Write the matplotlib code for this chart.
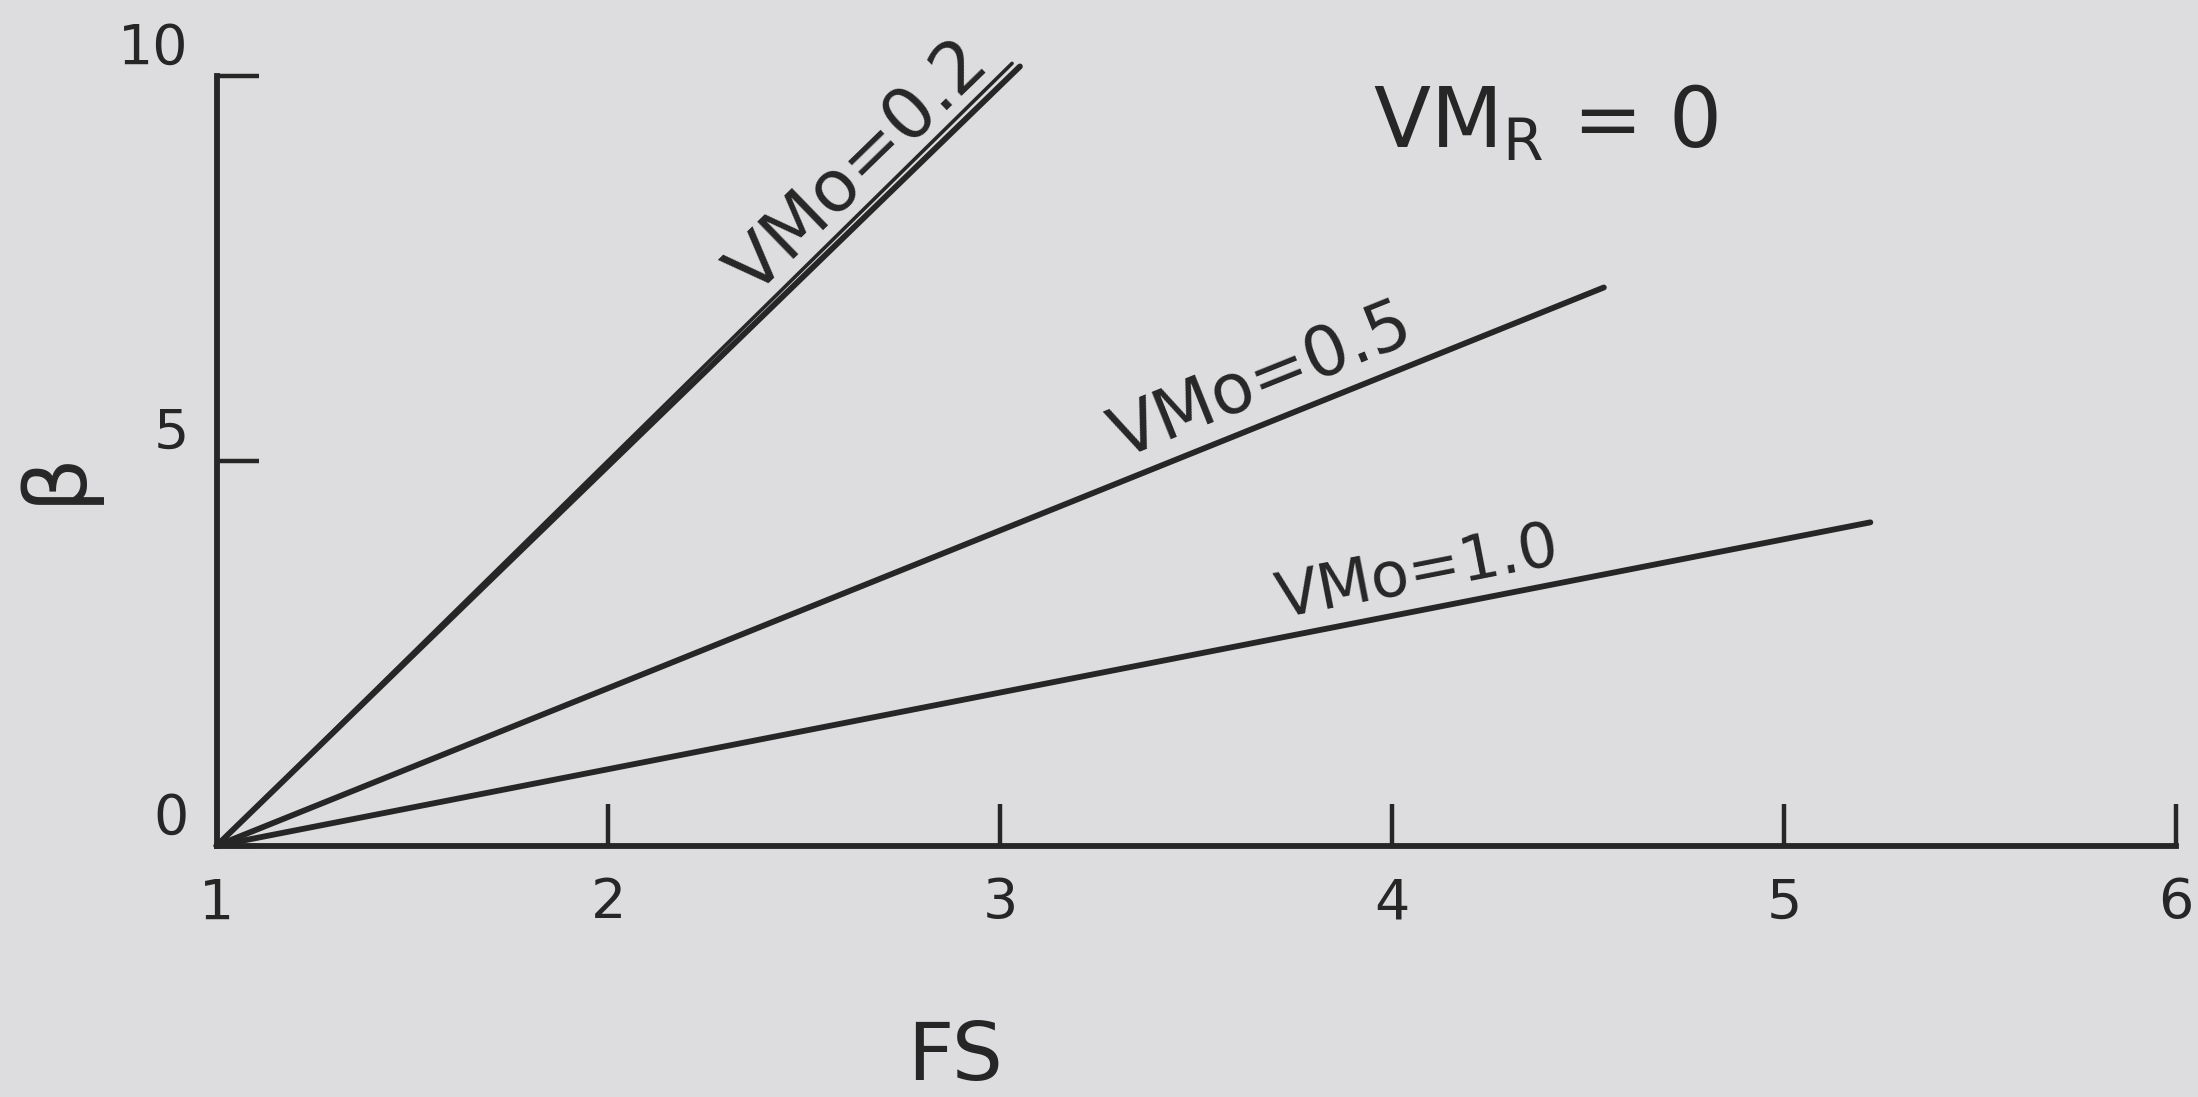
import numpy as np
import matplotlib.pyplot as plt

# beta vs factor of safety, one straight line per V_Mo (V_MR = 0)
vmo_labels = ["VMo=0.2", "VMo=0.5", "VMo=1.0"]
fs_start = [1.0, 1.0, 1.0]
beta_start = [0.0, 0.0, 0.0]
fs_end = [3.05, 4.54, 5.22]
beta_end = [10.12, 7.25, 4.2]
label_fs = [2.70, 3.70, 4.08]

# the 0.2 line was gone over twice near the top
retrace_fs = [1.0, 3.03]
retrace_beta = [0.0, 10.16]

x_ticks = [1, 2, 3, 4, 5, 6]
y_ticks = [0, 5, 10]

ink = "#262626"
paper = "#dddddf"
label_sizes = [52, 50, 45]

plt.rcParams['font.family'] = ['DejaVu Sans']

fig = plt.figure(figsize=(21.98, 10.97), dpi=100, facecolor=paper)
ax = fig.add_axes([0.0985, 0.2290, 0.8915, 0.7020])
ax.set_facecolor(paper)

ax.set_xlim(1, 6)
ax.set_ylim(0, 10)

for x0, y0, x1, y1 in zip(fs_start, beta_start, fs_end, beta_end):
    ax.plot([x0, x1], [y0, y1], color=ink, lw=4.2, solid_capstyle='round', clip_on=False)
ax.plot(retrace_fs, retrace_beta, color=ink, lw=2.6, solid_capstyle='round', clip_on=False)

# labels sit on their lines, turned to the on-screen slope
for name, x0, y0, x1, y1, lx, fsz in zip(vmo_labels, fs_start, beta_start, fs_end,
                                         beta_end, label_fs, label_sizes):
    slope = (y1 - y0) / (x1 - x0)
    ly = y0 + slope * (lx - x0)
    p0 = ax.transData.transform((x0, y0))
    p1 = ax.transData.transform((x1, y1))
    angle = np.degrees(np.arctan2(p1[1] - p0[1], p1[0] - p0[0]))
    ax.annotate(name, xy=(lx, ly), xytext=(0, 5), textcoords='offset points',
                ha='center', va='bottom', rotation=angle,
                rotation_mode='anchor', fontsize=fsz, color=ink)

ax.text(4.39, 9.38, r"VM$_\mathregular{R}$ = 0", ha='center', va='center',
        fontsize=60, color=ink)

ax.set_xticks(x_ticks)
ax.set_yticks(y_ticks)
ax.tick_params(direction='in', length=30, width=3.2, color=ink, labelcolor=ink,
               labelsize=40)
ax.tick_params(axis='x', pad=22)
ax.tick_params(axis='y', pad=20)
for lab in ax.get_yticklabels():
    lab.set_va('bottom')

for side in ['top', 'right']:
    ax.spines[side].set_visible(False)
for side in ['left', 'bottom']:
    ax.spines[side].set_linewidth(4.2)
    ax.spines[side].set_color(ink)

ax.set_xlabel("FS", fontsize=58, color=ink, va='center')
ax.xaxis.set_label_coords(0.377, -0.275)
ax.set_ylabel("β", fontsize=62, color=ink, va='center')
ax.yaxis.set_label_coords(-0.0825, 0.48)

fig.savefig("out.png", dpi=100, facecolor=paper)
